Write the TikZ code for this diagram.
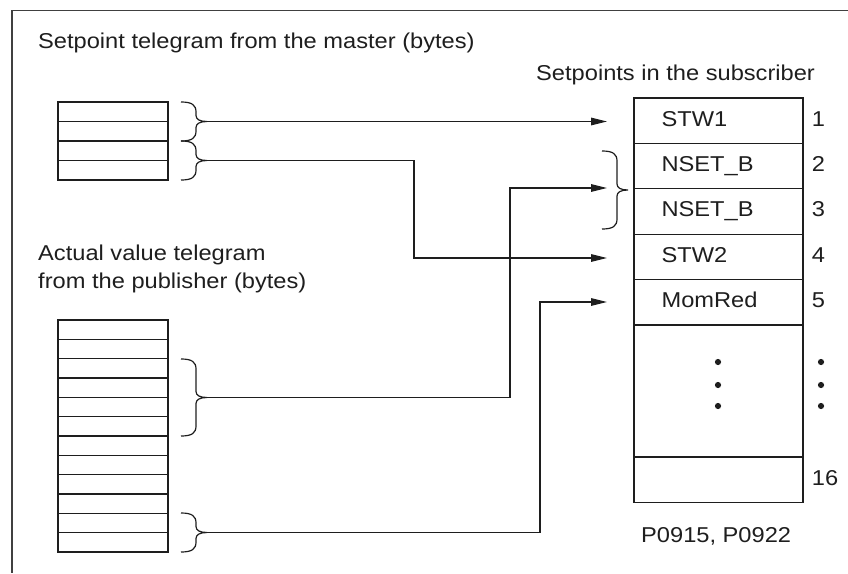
\documentclass[tikz,border=0pt]{standalone}
\usepackage{fontspec}
\setmainfont[FakeStretch=1.1]{Liberation Sans}
\usetikzlibrary{arrows.meta}
\newcommand{\mybrace}[4]{%
  \pgfmathsetmacro\ym{(#2+#3)/2}%
  \draw[bracestyle] (#1,#2) .. controls (#1+11,#2) and (#1+15,#2+3) .. (#1+15,#2+10)
    -- (#1+15,\ym-6) .. controls (#1+15,\ym-2) and (#1+19,\ym) .. (#1+26,\ym) coordinate (#4)
    .. controls (#1+19,\ym) and (#1+15,\ym+2) .. (#1+15,\ym+6)
    -- (#1+15,#3-10) .. controls (#1+15,#3-3) and (#1+11,#3) .. (#1,#3);%
}
\definecolor{ink}{HTML}{1E1E1E}
\begin{document}
\begin{tikzpicture}[x=1pt,y=-1pt,
  every node/.style={font=\fontsize{21.5}{27}\selectfont, text=ink, inner sep=0pt},
  frameline/.style={draw=ink!85, line width=1.5pt},
  boxline/.style={draw=ink, line width=1.3pt},
  bracestyle/.style={draw=ink, line width=1.2pt},
  cell/.style={draw=ink, line width=1.3pt, minimum width=169pt, minimum height=45.4pt},
  celltext/.style={anchor=west, text height=15.75pt, text depth=5pt},
  conn/.style={draw=ink, line width=1.3pt},
  arr/.style={conn, -{Triangle[length=16pt,width=7.5pt]}}
]
\useasboundingbox (0,0) rectangle (848,573);
% frame (clipped on right and bottom)
\draw[frameline] (848,10.5) -- (12,10.5) -- (12,573);

% titles
\node[anchor=base west] (ttl1) at (38,48) {Setpoint telegram from the master (bytes)};
\node[anchor=base west] (ttl2) at (536,80) {Setpoints in the subscriber};
\node[anchor=base west] (ttl3) at (38,260) {Actual value telegram};
\node[anchor=base west] (ttl4) at (38,288) {from the publisher (bytes)};

% upper byte box
\draw[boxline] (58,102) rectangle (168,180);
\foreach \i in {1,2,3} \draw[boxline] (58,102+\i*19.5) -- (168,102+\i*19.5);
% lower byte box
\draw[boxline] (58,320) rectangle (168,552);
\foreach \i in {1,...,11} \draw[boxline] (58,320+\i*19.333) -- (168,320+\i*19.333);

% braces
\mybrace{181}{102}{141}{b1}
\mybrace{181}{141}{180}{b2}
\mybrace{181}{359}{436}{b3}
\mybrace{181}{513}{552}{b4}
\mybrace{602}{151}{229}{bR}

% subscriber table
\node[cell] (c1) at (718.5,120.7) {};
\node[cell] (c2) at (718.5,166.1) {};
\node[cell] (c3) at (718.5,211.5) {};
\node[cell] (c4) at (718.5,256.9) {};
\node[cell] (c5) at (718.5,302.3) {};
\node[cell, minimum height=132pt] (cd) at (718.5,391) {};
\node[cell] (c16) at (718.5,479.7) {};

\node[celltext] (s1) at ([xshift=28pt]c1.west) {STW1};
\node[celltext] (s2) at ([xshift=28pt]c2.west) {NSET\_B};
\node[celltext] (s3) at ([xshift=28pt]c3.west) {NSET\_B};
\node[celltext] (s4) at ([xshift=28pt]c4.west) {STW2};
\node[celltext] (s5) at ([xshift=28pt]c5.west) {MomRed};

\node[celltext] (n1) at ([xshift=8pt]c1.east) {1};
\node[celltext] (n2) at ([xshift=8pt]c2.east) {2};
\node[celltext] (n3) at ([xshift=8pt]c3.east) {3};
\node[celltext] (n4) at ([xshift=8pt]c4.east) {4};
\node[celltext] (n5) at ([xshift=8pt]c5.east) {5};
\node[celltext] (n16) at ([xshift=8pt]c16.east) {16};

\foreach \y in {362,385,406} {
  \fill[ink] (718,\y) circle (3.1pt);
  \fill[ink] (821,\y) circle (3.1pt);
}

\node[anchor=base west] (par) at (641,542) {P0915, P0922};

% connector ends and knees
\coordinate (e1) at (607,121.5);
\coordinate (e3) at (607,188);
\coordinate (e4) at (607,258);
\coordinate (e5) at (607,302);
\coordinate (k2) at (414,258);
\coordinate (k3) at (510,188);
\coordinate (k4) at (540,302);

\draw[arr] (b1) -- (e1);
\draw[arr] (b2) -| (k2) -- (e4);
\draw[arr] (b3) -| (k3) -- (e3);
\draw[arr] (b4) -| (k4) -- (e5);
\end{tikzpicture}
\end{document}
